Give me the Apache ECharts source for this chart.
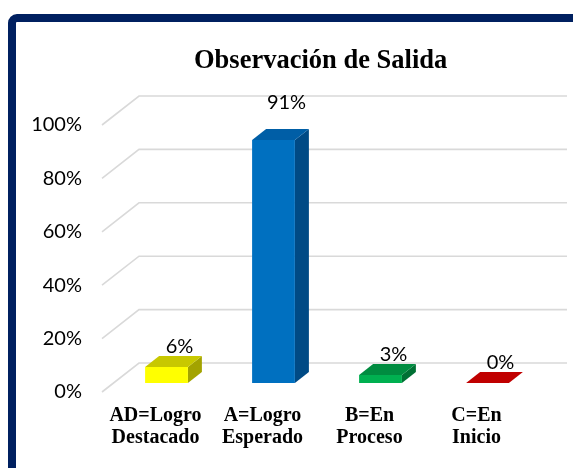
<!DOCTYPE html>
<html>
<head>
<meta charset="utf-8">
<script src="https://cdn.jsdelivr.net/npm/echarts@6/dist/echarts.min.js"></script>
<style>
  html, body { margin: 0; padding: 0; background: #fff; }
  #chart { width: 573px; height: 468px; }
</style>
</head>
<body>
<div id="chart"></div>
<script>
const categories = ["AD=Logro\nDestacado", "A=Logro\nEsperado", "B=En\nProceso", "C=En\nInicio"];
const values = [6, 91, 3, 0];
const yTicks = [0, 20, 40, 60, 80, 100];

// caras: frente, arriba, lado
const faceColors = [
  ["#FFFF00", "#C8C800", "#A3A300"],
  ["#0070C0", "#005EA6", "#004A85"],
  ["#00B050", "#008C40", "#007034"],
  ["#FF0000", "#C00000", "#A00000"]
];

// profundidad 3D
const wallDx = 37, wallDy = -29;
const barFrontDx = 11, barFrontDy = -9;
const depthDx = 14, depthDy = -11;

let myChart = echarts.init(document.getElementById("chart"));
myChart.setOption({
  animation: false,
  title: {
    text: "Observación de Salida",
    left: 189,
    top: 43,
    textStyle: { fontFamily: "Liberation Serif", fontWeight: "bold", fontSize: 26.5, color: "#000" }
  },
  graphic: [{
    type: "rect",
    shape: { x: 12, y: 18, width: 620, height: 520, r: 5 },
    style: { fill: "none", stroke: "#002060", lineWidth: 8 },
    silent: true
  }],
  grid: { left: 102, right: 43, top: 125, bottom: 76 },
  xAxis: {
    type: "category",
    data: categories,
    axisLine: { show: false },
    axisTick: { show: false },
    axisLabel: {
      interval: 0,
      margin: 13,
      fontFamily: "Liberation Serif",
      fontWeight: "bold",
      fontSize: 20,
      lineHeight: 22,
      color: "#000"
    }
  },
  yAxis: {
    type: "value",
    min: 0,
    max: 100,
    interval: 20,
    splitLine: { show: false },
    axisLine: { show: false },
    axisTick: { show: false },
    axisLabel: {
      formatter: "{value}%",
      margin: 20,
      fontFamily: "Lato",
      fontSize: 20,
      color: "#000"
    }
  },
  series: [
    {
      type: "custom",
      silent: true,
      data: yTicks.map(v => [0, v]),
      encode: { x: 0, y: 1 },
      renderItem: function (params, api) {
        const cs = params.coordSys;
        const y = api.coord([0, api.value(1)])[1];
        return {
          type: "polyline",
          shape: {
            points: [
              [cs.x, y],
              [cs.x + wallDx, y + wallDy],
              [cs.x + cs.width + wallDx, y + wallDy]
            ]
          },
          style: { stroke: "#D9D9D9", lineWidth: 1.6, fill: null }
        };
      }
    },
    {
      type: "custom",
      data: values.map((v, i) => [i, v]),
      encode: { x: 0, y: 1 },
      renderItem: function (params, api) {
        const i = api.value(0);
        const v = api.value(1);
        const base = api.coord([i, 0]);
        const top = api.coord([i, v]);
        const w = api.size([1, 0])[0] * 0.4;
        const x0 = base[0] - w / 2 + barFrontDx;
        const x1 = base[0] + w / 2 + barFrontDx;
        const yb = base[1] + barFrontDy;
        const yt = top[1] + barFrontDy;
        const c = faceColors[i];
        const children = [];
        if (yb - yt > 0.5) {
          children.push({
            type: "polygon",
            shape: { points: [[x1, yt], [x1 + depthDx, yt + depthDy], [x1 + depthDx, yb + depthDy], [x1, yb]] },
            style: { fill: c[2] }
          });
          children.push({
            type: "rect",
            shape: { x: x0, y: yt, width: x1 - x0, height: yb - yt },
            style: { fill: c[0] }
          });
        }
        children.push({
          type: "polygon",
          shape: { points: [[x0, yt], [x1, yt], [x1 + depthDx, yt + depthDy], [x0 + depthDx, yt + depthDy]] },
          style: { fill: c[1] }
        });
        const lift = v > 50 ? 26 : 9;
        children.push({
          type: "text",
          style: {
            text: v + "%",
            x: (x0 + x1) / 2 + depthDx - 1,
            y: yt + depthDy - lift,
            align: "center",
            verticalAlign: "middle",
            fontFamily: "Lato",
            fontSize: 20,
            fill: "#000"
          }
        });
        return { type: "group", children: children };
      }
    }
  ]
});
</script>
</body>
</html>
